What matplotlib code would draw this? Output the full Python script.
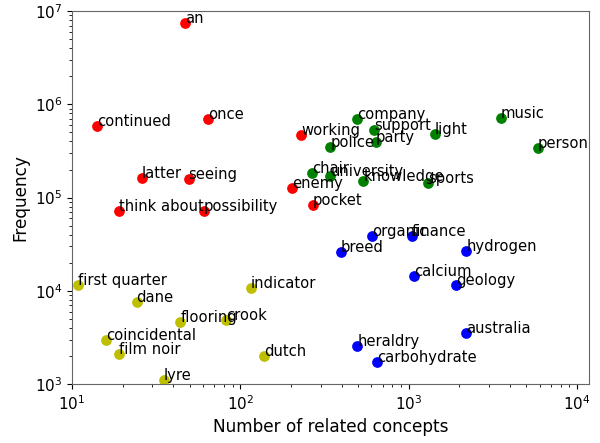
import matplotlib
matplotlib.use("Agg")
import matplotlib.pyplot as plt

red_labels = ["an", "continued", "once", "working", "latter", "seeing", "enemy", "pocket", "think about", "possibility"]
red_x = [47, 14.1, 64, 229, 25.9, 49.3, 204, 270, 18.9, 60.7]
red_y = [7.4e6, 5.85e5, 6.9e5, 4.7e5, 1.61e5, 1.57e5, 1.27e5, 8.4e4, 7.2e4, 7.2e4]

green_labels = ["company", "support", "light", "music", "police", "party", "person", "chair", "university", "knowledge", "sports"]
green_x = [495, 623, 1426, 3520, 343, 636, 5830, 268, 343, 538, 1300]
green_y = [6.9e5, 5.3e5, 4.8e5, 7.2e5, 3.5e5, 3.9e5, 3.4e5, 1.82e5, 1.7e5, 1.52e5, 1.45e5]

blue_labels = ["organic", "finance", "breed", "hydrogen", "calcium", "geology", "australia", "heraldry", "carbohydrate"]
blue_x = [608, 1042, 395, 2200, 1082, 1918, 2200, 495, 652]
blue_y = [3.9e4, 3.9e4, 2.6e4, 2.68e4, 1.45e4, 1.16e4, 3.5e3, 2.57e3, 1.74e3]

yellow_labels = ["first quarter", "dane", "indicator", "flooring", "crook", "coincidental", "film noir", "dutch", "lyre"]
yellow_x = [10.9, 24.2, 115, 44, 82.4, 15.9, 18.9, 138, 35.2]
yellow_y = [1.16e4, 7.65e3, 1.07e4, 4.68e3, 4.88e3, 2.98e3, 2.09e3, 2.0e3, 1.1e3]

groups = [
    (red_labels, red_x, red_y, "r"),
    (green_labels, green_x, green_y, "g"),
    (blue_labels, blue_x, blue_y, "b"),
    (yellow_labels, yellow_x, yellow_y, "y"),
]

fig = plt.figure(figsize=(6.0, 4.43), dpi=100)
ax = fig.add_axes([0.12, 0.133, 0.862, 0.842])

for labels, xs, ys, c in groups:
    ax.scatter(xs, ys, c=c, s=45, zorder=2)
    for lab, x, y in zip(labels, xs, ys):
        ax.annotate(lab, (x, y), fontsize=10.6, color="black", zorder=3)

ax.set_xscale("log")
ax.set_yscale("log")
ax.set_xlim(10, 11800)
ax.set_ylim(1e3, 1e7)
ax.set_xlabel("Number of related concepts", fontsize=12.2)
ax.set_ylabel("Frequency", fontsize=12.2)
ax.tick_params(labelsize=11)
for s in ax.spines.values():
    s.set_color("0.4")

fig.savefig("out.png", dpi=100)
